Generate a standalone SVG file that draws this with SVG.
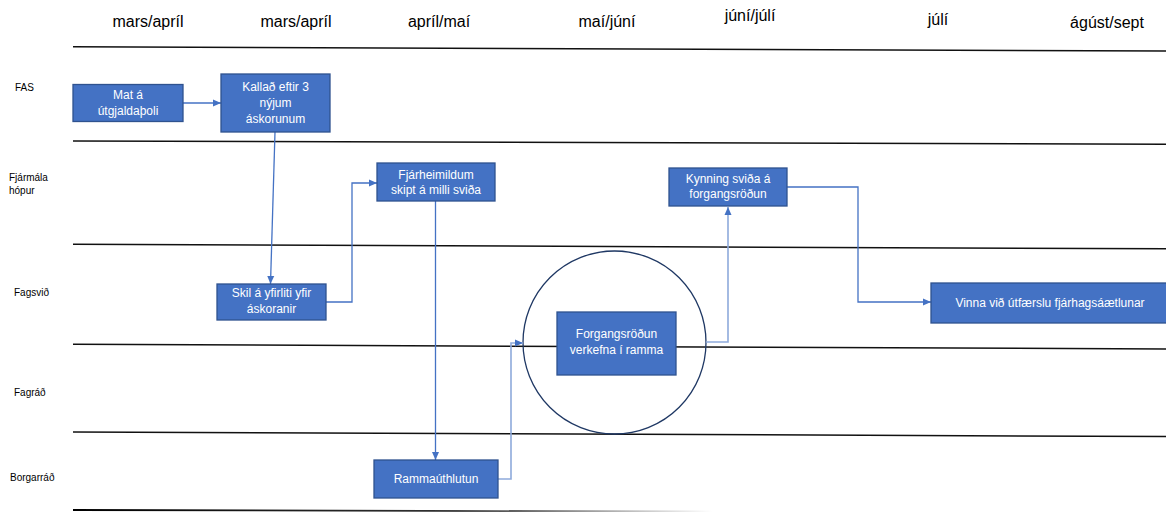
<svg xmlns="http://www.w3.org/2000/svg" width="1166" height="512" viewBox="0 0 1166 512">
<style>
.hdr{font-family:"Liberation Sans",Arial,sans-serif;font-size:16px;fill:#000;text-anchor:middle}
.lbl{font-family:"Liberation Sans",Arial,sans-serif;font-size:10px;fill:#000}
.box{fill:#4472C4;stroke:#2F528F;stroke-width:1.3}
.bt{font-family:"Liberation Sans",Arial,sans-serif;font-size:12px;fill:#fff;text-anchor:middle}
.lane{stroke:#111;stroke-width:1.5;fill:none}
.con{stroke:#4472C4;stroke-width:1.3;fill:none;marker-end:url(#arr)}
.conl{stroke:#8EAADB;stroke-width:1.6;fill:none;marker-end:url(#arr)}
</style>
<defs>
<marker id="arr" markerUnits="userSpaceOnUse" markerWidth="9" markerHeight="8" refX="8" refY="4" orient="auto">
<path d="M0,0.5 L8,4 L0,7.5 z" fill="#4472C4"/>
</marker>
<linearGradient id="fade" gradientUnits="userSpaceOnUse" x1="73" y1="0" x2="712" y2="0">
<stop offset="0" stop-color="#000"/>
<stop offset="0.6" stop-color="#333"/>
<stop offset="1" stop-color="#fff"/>
</linearGradient>
</defs>
<rect width="1166" height="512" fill="#fff"/>
<g id="headers">
<text class="hdr" x="148" y="27">mars/apríl</text>
<text class="hdr" x="296" y="27">mars/apríl</text>
<text class="hdr" x="439" y="27">apríl/maí</text>
<text class="hdr" x="607" y="27">maí/júní</text>
<text class="hdr" x="750" y="21">júní/júlí</text>
<text class="hdr" x="938" y="25">júlí</text>
<text class="hdr" x="1107" y="28">ágúst/sept</text>
</g>
<g id="lanes">
<line class="lane" x1="73" y1="46.7" x2="1166" y2="51"/>
<line class="lane" x1="73" y1="141" x2="1166" y2="144.3"/>
<line class="lane" x1="73" y1="244.3" x2="1166" y2="248.8"/>
<line class="lane" x1="73" y1="344.3" x2="1166" y2="349"/>
<line class="lane" x1="73" y1="432" x2="1166" y2="436.5"/>
<path d="M73,510 L712,511.5" stroke="url(#fade)" stroke-width="1.8" fill="none"/>
</g>
<g id="lane-labels">
<text class="lbl" x="15" y="91">FAS</text>
<text class="lbl" x="9" y="181">Fjármála</text>
<text class="lbl" x="9" y="194">hópur</text>
<text class="lbl" x="14" y="296">Fagsvið</text>
<text class="lbl" x="14" y="396">Fagráð</text>
<text class="lbl" x="10" y="481">Borgarráð</text>
</g>
<g id="focus-circle">
<circle cx="614.5" cy="342.5" r="91.5" fill="none" stroke="#1F3864" stroke-width="1.3"/>
</g>
<g id="connectors">
<path class="con" d="M183,103 H221"/>
<path class="con" d="M275,132 L270.5,284"/>
<path class="con" d="M326,302 H352 V183 H377"/>
<path class="con" d="M435.5,201 V460"/>
<path class="conl" d="M498,479 H511 V343 H523" stroke-width="1.2"/>
<path class="conl" d="M706,342 H728 V207"/>
<path class="con" d="M787,187 H858 V302 H931"/>
</g>
<g id="n-mat">
<rect class="box" x="73" y="84.5" width="110" height="37"/>
<text class="bt" x="128" y="99">Mat á</text>
<text class="bt" x="128" y="115">útgjaldaþoli</text>
</g>
<g id="n-kallad">
<rect class="box" x="221" y="74" width="109" height="58"/>
<text class="bt" x="275.5" y="91">Kallað eftir 3</text>
<text class="bt" x="275.5" y="107">nýjum</text>
<text class="bt" x="275.5" y="123">áskorunum</text>
</g>
<g id="n-skil">
<rect class="box" x="217" y="284" width="109" height="36"/>
<text class="bt" x="271.5" y="297">Skil á yfirliti yfir</text>
<text class="bt" x="271.5" y="313">áskoranir</text>
</g>
<g id="n-fjarheimildum">
<rect class="box" x="377" y="163" width="118" height="38"/>
<text class="bt" x="436" y="179">Fjárheimildum</text>
<text class="bt" x="436" y="194">skipt á milli sviða</text>
</g>
<g id="n-ramma">
<rect class="box" x="374" y="460" width="124" height="38"/>
<text class="bt" x="436" y="483">Rammaúthlutun</text>
</g>
<g id="n-forgangsrodun">
<rect class="box" x="557" y="312" width="119" height="63"/>
<text class="bt" x="616.5" y="338">Forgangsröðun</text>
<text class="bt" x="616.5" y="354">verkefna í ramma</text>
</g>
<g id="n-kynning">
<rect class="box" x="669" y="168" width="118" height="38"/>
<text class="bt" x="728" y="183">Kynning sviða á</text>
<text class="bt" x="728" y="198">forgangsröðun</text>
</g>
<g id="n-vinna">
<rect class="box" x="931" y="283" width="240" height="40"/>
<text class="bt" x="1050" y="307">Vinna við útfærslu fjárhagsáætlunar</text>
</g>
</svg>
